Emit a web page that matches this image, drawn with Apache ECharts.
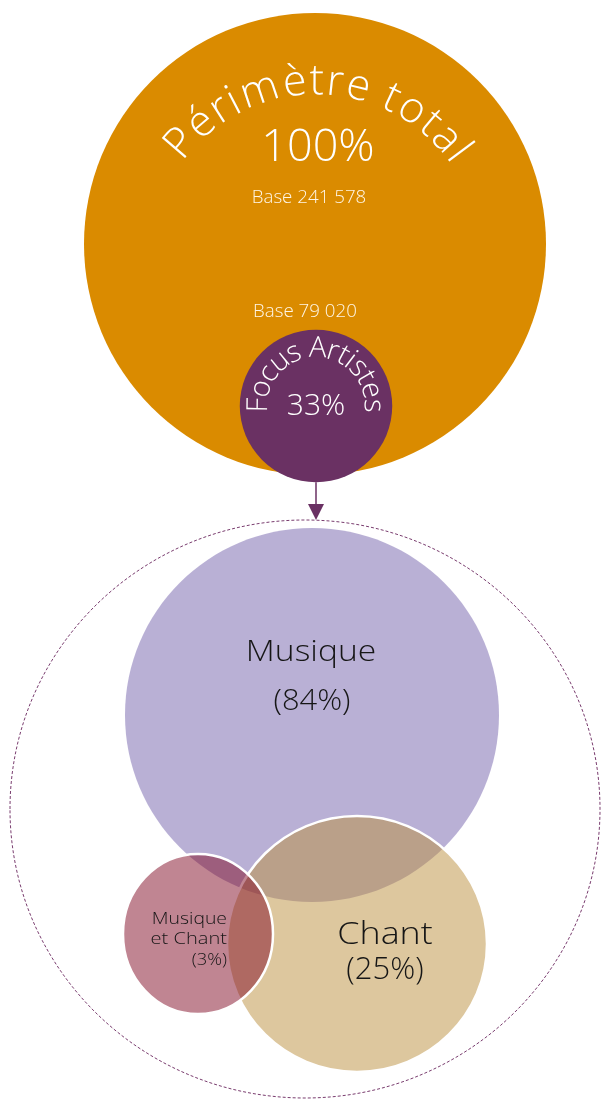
<!DOCTYPE html>
<html>
<head>
<meta charset="utf-8">
<script src="https://cdn.jsdelivr.net/npm/echarts@6/dist/echarts.min.js"></script>
<style>
  html, body { margin: 0; padding: 0; background: #ffffff; }
  #chart { width: 601px; height: 1100px; }
</style>
</head>
<body>
<div id="chart"></div>
<script>
// ---- data ----
const categories = ['Périmètre total', 'Focus Artistes', 'Musique', 'Chant', 'Musique et Chant'];
const shares = [100, 33, 84, 25, 3];           // % of the total / of the focus group
const baseCounts = [241578, 79020];            // population bases (total, focus)

// ---- layout (chart units = pixels of the 601 x 1100 canvas) ----
const FF = "'Open Sans', Lato, sans-serif";
const totalCircle = { cx: 315, cy: 244, r: 231 };
const focusCenter = { cx: 316, cy: 406 };       // radius follows its share of the total
const breakdown = {
  'Musique':          { cx: 312, cy: 715, rx: 187, ry: 187, fill: 'rgba(115,98,171,0.5)', stroke: null },
  'Chant':            { cx: 357, cy: 944, rx: 130, ry: 128, fill: 'rgba(187,143,61,0.5)', stroke: '#ffffff' },
  'Musique et Chant': { cx: 198, cy: 934, rx: 75,  ry: 80,  fill: 'rgba(129,11,37,0.5)',  stroke: '#ffffff' }
};
const frame = { cx: 305, cy: 809, rx: 295, ry: 289 };

const measureCtx = document.createElement('canvas').getContext('2d');

function fmtBase(n) {
  return 'Base ' + String(n).replace(/\B(?=(\d{3})+(?!\d))/g, ' ');
}

// Text set along a circular arc, one glyph per element, angles in degrees clockwise from 12 o'clock
function arcText(text, c, R, a0, a1, fontSize, color, weight) {
  measureCtx.font = weight + ' ' + fontSize + 'px ' + FF;
  const chars = Array.from(text);
  const ws = chars.map(ch => measureCtx.measureText(ch).width);
  const W = ws.reduce((a, b) => a + b, 0);
  const pr = R - 0.15 * fontSize;
  let acc = 0;
  return chars.map((ch, i) => {
    const t = (acc + ws[i] / 2) / W;
    acc += ws[i];
    const th = (a0 + (a1 - a0) * t) * Math.PI / 180;
    return {
      type: 'text',
      x: c[0] + pr * Math.sin(th),
      y: c[1] - pr * Math.cos(th),
      rotation: -th,
      style: {
        text: ch, fill: color, fontSize: fontSize, fontFamily: FF, fontWeight: weight,
        align: 'center', verticalAlign: 'bottom'
      }
    };
  });
}

// Straight label; `stretch` widens the wide geometric lettering horizontally
function label(api, x, y, text, size, color, stretch, align) {
  const p = api.coord([x, y]);
  return {
    type: 'text', x: p[0], y: p[1], scaleX: stretch || 1,
    style: { text: text, fill: color, fontSize: size, fontFamily: FF, fontWeight: 300,
             align: align || 'center', verticalAlign: 'middle' }
  };
}

function renderItem(params, api) {
  const idx = params.dataIndex;
  const name = categories[idx];
  const share = shares[idx];
  const children = [];

  if (idx === 0) {
    const c = api.coord([totalCircle.cx, totalCircle.cy]);
    const r = Math.abs(api.size([totalCircle.r, 0])[0]);
    children.push({ type: 'circle', shape: { cx: c[0], cy: c[1], r: r }, style: { fill: '#DA8B00' } });
    children.push(...arcText(name, api.coord([316, 260]), Math.abs(api.size([163, 0])[0]), -54, 55, 43, '#ffffff', 300));
    children.push(label(api, 318, 148, share + '%', 45, '#ffffff'));
    children.push(label(api, 309, 198, fmtBase(baseCounts[0]), 17.5, '#fff6e6', 1.07));
  } else if (idx === 1) {
    const rr = totalCircle.r * share / 100;
    const c = api.coord([focusCenter.cx, focusCenter.cy]);
    const r = Math.abs(api.size([rr, 0])[0]);
    children.push(label(api, 305, 312, fmtBase(baseCounts[1]), 17.5, '#fff6e6', 1.07));
    children.push({ type: 'circle', shape: { cx: c[0], cy: c[1], r: r }, style: { fill: '#6A3163' } });
    children.push(...arcText(name, c, Math.abs(api.size([47, 0])[0]), -97, 97, 29, '#ffffff', 300));
    children.push(label(api, 316, 406, share + '%', 30, '#ffffff'));

    // arrow from the focus group down to its breakdown
    const top = api.coord([focusCenter.cx, focusCenter.cy + rr]);
    const tip = api.coord([focusCenter.cx, frame.cy - frame.ry]);
    children.push({ type: 'line', shape: { x1: top[0], y1: top[1], x2: tip[0], y2: tip[1] - 14 },
                    style: { stroke: '#6A3163', lineWidth: 1.5 } });
    children.push({ type: 'polygon', shape: { points: [[tip[0] - 8, tip[1] - 16], [tip[0] + 8, tip[1] - 16], [tip[0], tip[1]]] },
                    style: { fill: '#6A3163' } });

    // dashed frame holding the breakdown
    const fc = api.coord([frame.cx, frame.cy]);
    const fs = api.size([frame.rx, frame.ry]);
    children.push({ type: 'ellipse', shape: { cx: fc[0], cy: fc[1], rx: Math.abs(fs[0]), ry: Math.abs(fs[1]) },
                    style: { fill: null, stroke: '#7A3D6F', lineWidth: 1, lineDash: [3, 2] } });
  } else {
    const b = breakdown[name];
    const c = api.coord([b.cx, b.cy]);
    const s = api.size([b.rx, b.ry]);
    children.push({ type: 'ellipse', shape: { cx: c[0], cy: c[1], rx: Math.abs(s[0]), ry: Math.abs(s[1]) },
                    style: { fill: b.fill, stroke: b.stroke, lineWidth: b.stroke ? 2.5 : 0 } });
    const ink = '#161616';
    if (name === 'Musique') {
      children.push(label(api, 311, 652, name, 30, ink, 1.12));
      children.push(label(api, 312, 701, '(' + share + '%)', 30, ink, 1.03));
    } else if (name === 'Chant') {
      children.push(label(api, 385, 935, name, 32, ink, 1.12));
      children.push(label(api, 385, 970, '(' + share + '%)', 31, ink));
    } else {
      children.push(label(api, 227, 919, 'Musique', 17, ink, 1.14, 'right'));
      children.push(label(api, 227, 939, 'et Chant', 17, ink, 1.18, 'right'));
      children.push(label(api, 227, 960, '(' + share + '%)', 17, ink, 1.08, 'right'));
    }
  }
  return { type: 'group', children: children };
}

const chart = echarts.init(document.getElementById('chart'), null, { renderer: 'canvas' });
chart.setOption({
  animation: false,
  backgroundColor: '#ffffff',
  grid: { left: 0, right: 0, top: 0, bottom: 0 },
  xAxis: { type: 'value', min: 0, max: 601, show: false },
  yAxis: { type: 'value', min: 0, max: 1100, inverse: true, show: false },
  series: [{
    type: 'custom',
    coordinateSystem: 'cartesian2d',
    renderItem: renderItem,
    data: categories.map((c, i) => [i, shares[i]]),
    encode: { x: 0, y: 1 },
    silent: true
  }]
});
</script>
</body>
</html>
